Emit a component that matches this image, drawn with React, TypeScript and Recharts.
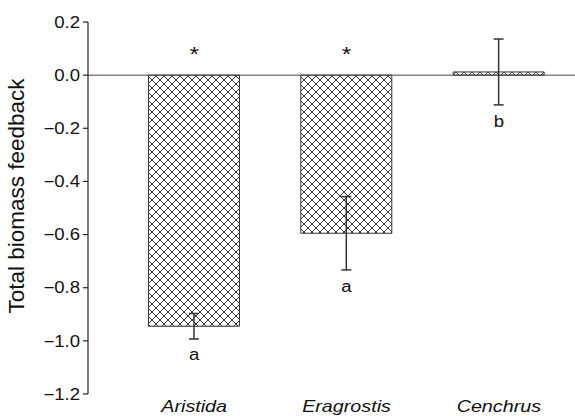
import React from 'react';
import {
  BarChart,
  Bar,
  XAxis,
  YAxis,
  ErrorBar,
  ReferenceLine,
  ReferenceDot,
  Label,
} from 'recharts';

const categories = ['Aristida', 'Eragrostis', 'Cenchrus'];
const means = [-0.945, -0.595, 0.012];
const errors = [0.048, 0.138, 0.124];
const letters = ['a', 'a', 'b'];
const letterY = [-1.05, -0.795, -0.175];
const stars = ['*', '*', ''];
const starY = 0.08;
const yTicks = [0.2, 0, -0.2, -0.4, -0.6, -0.8, -1.0, -1.2];

const data = categories.map((name, i) => ({ name, value: means[i], err: errors[i] }));

const FONT = '"Liberation Sans", Arial, Helvetica, sans-serif';
// the reference type is a little wider than Liberation Sans
const STRETCH = 1.16;

const fmtTick = (v: number) => {
  const s = Math.abs(v).toFixed(1);
  return v < -1e-9 ? '\u2212' + s : s;
};

const YTick = (props: any) => {
  const { x, y, payload } = props;
  return (
    <g transform={`translate(${x},${y})`}>
      <text transform={`scale(${STRETCH},1)`} textAnchor="end" dy="0.36em"
        fontFamily={FONT} fontSize={16} fill="#111">
        {fmtTick(payload.value)}
      </text>
    </g>
  );
};

const XTick = (props: any) => {
  const { x, y, payload } = props;
  return (
    <g transform={`translate(${x},${y})`}>
      <text transform={`scale(${STRETCH},1)`} textAnchor="middle" dy="0.71em"
        fontFamily={FONT} fontSize={17} fontStyle="italic" fill="#111">
        {payload.value}
      </text>
    </g>
  );
};

const AxisTitle = (props: any) => {
  const { viewBox } = props;
  if (!viewBox) return null;
  const cx = viewBox.x + 16;
  const cy = viewBox.y + viewBox.height / 2 - 12;
  return (
    <text transform={`translate(${cx},${cy}) rotate(-90)`} textAnchor="middle" dy="0.36em"
      fontFamily={FONT} fontSize={22.5} fill="#111">
      Total biomass feedback
    </text>
  );
};

const AnnotationText = (props: any) => {
  const { viewBox, value, size } = props;
  if (!viewBox || !value) return null;
  const cx = viewBox.x + (viewBox.width || 0) / 2;
  const cy = viewBox.y + (viewBox.height || 0) / 2;
  return (
    <g transform={`translate(${cx},${cy})`}>
      <text transform={`scale(${STRETCH},1)`} dy="0.35em" textAnchor="middle"
        fontFamily={FONT} fontSize={size || 16} fill="#111">
        {value}
      </text>
    </g>
  );
};

export default function App() {
  return (
    <div style={{ position: 'absolute', left: 0, top: 0, width: 575, height: 416, background: '#fff' }}>
      <BarChart
        width={575}
        height={416}
        data={data}
        margin={{ top: 22, right: 0, bottom: 0, left: 0 }}
        barCategoryGap="20%"
      >
        <defs>
          <pattern id="xhatch" width="8" height="8" patternUnits="userSpaceOnUse">
            <rect width="8" height="8" fill="#fff" />
            <path d="M0,0 L8,8 M8,0 L0,8" stroke="#222" strokeWidth="0.9" />
          </pattern>
        </defs>
        <XAxis
          dataKey="name"
          axisLine={false}
          tickLine={false}
          tickSize={4}
          height={22}
          padding={{ left: 30, right: 0 }}
          tick={<XTick />}
        />
        <YAxis
          width={88}
          domain={[-1.2, 0.2]}
          ticks={yTicks}
          tickSize={5}
          tickMargin={3}
          interval={0}
          axisLine={{ stroke: '#222', strokeWidth: 1.2 }}
          tickLine={{ stroke: '#222', strokeWidth: 1.2 }}
          tick={<YTick />}
        >
          <Label position="insideLeft" content={<AxisTitle />} />
        </YAxis>
        <ReferenceLine y={0} stroke="#444" strokeWidth={1} />
        <Bar dataKey="value" fill="url(#xhatch)" stroke="#333" strokeWidth={1} isAnimationActive={false}>
          <ErrorBar dataKey="err" width={5} stroke="#333" strokeWidth={1.5} direction="y" />
        </Bar>
        {categories.map((c, i) =>
          stars[i] ? (
            <ReferenceDot key={'s' + c} x={c} y={starY} r={0} fill="none" stroke="none"
              label={<AnnotationText value={stars[i]} size={21} />} />
          ) : null
        )}
        {categories.map((c, i) => (
          <ReferenceDot key={'l' + c} x={c} y={letterY[i]} r={0} fill="none" stroke="none"
            label={<AnnotationText value={letters[i]} size={16} />} />
        ))}
      </BarChart>
    </div>
  );
}
